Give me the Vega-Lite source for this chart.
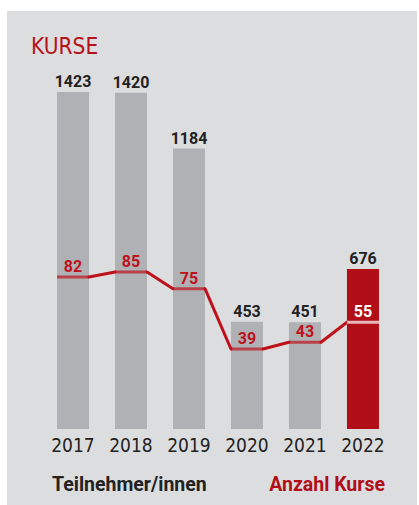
{
  "$schema": "https://vega.github.io/schema/vega-lite/v6.json",
  "width": 410,
  "height": 494,
  "autosize": "none",
  "padding": {"left": 7, "top": 11, "right": 2, "bottom": 0},
  "background": "#ffffff",
  "config": {"view": {"stroke": null, "fill": "#dcdddf"}},
  "title": {
    "text": "KURSE",
    "anchor": "start",
    "frame": "group",
    "orient": "top",
    "offset": 0,
    "dx": 24,
    "dy": 65,
    "baseline": "alphabetic",
    "font": "DejaVu Sans Condensed",
    "fontSize": 22.5,
    "fontWeight": "normal",
    "color": "#b5121b"
  },
  "data": {
    "values": [
      {"year": "2017", "participants": 1423, "courses": 82},
      {"year": "2018", "participants": 1420, "courses": 85},
      {"year": "2019", "participants": 1184, "courses": 75},
      {"year": "2020", "participants": 453, "courses": 39},
      {"year": "2021", "participants": 451, "courses": 43},
      {"year": "2022", "participants": 676, "courses": 55}
    ]
  },
  "encoding": {
    "x": {
      "field": "year",
      "type": "ordinal",
      "scale": {"paddingInner": 0.4483, "paddingOuter": 0.759, "align": 0.568},
      "axis": {
        "orient": "bottom",
        "offset": -76,
        "domain": false,
        "ticks": false,
        "grid": false,
        "title": null,
        "labelAngle": 0,
        "labelPadding": 7,
        "labelFont": "DejaVu Sans Condensed",
        "labelFontSize": 19,
        "labelColor": "#222222"
      }
    }
  },
  "layer": [
    {
      "encoding": {
        "y": {"type": "quantitative", "scale": {"domain": [-321, 1765], "nice": false, "zero": false}, "axis": null}
      },
      "layer": [
        {
          "mark": {"type": "bar"},
          "encoding": {
            "y": {"field": "participants", "type": "quantitative"},
            "y2": {"datum": 0},
            "color": {"condition": {"test": "datum.year === '2022'", "value": "#b20e17"}, "value": "#b0b1b4"}
          }
        },
        {
          "mark": {"type": "text", "dy": -5, "baseline": "alphabetic", "font": "Roboto", "fontWeight": "bold", "fontSize": 16, "color": "#222222"},
          "encoding": {
            "y": {"field": "participants", "type": "quantitative"},
            "text": {"field": "participants", "type": "quantitative"}
          }
        },
        {
          "data": {"values": [{"label": "Teilnehmer/innen"}]},
          "mark": {"type": "text", "align": "left", "baseline": "alphabetic", "dx": -5, "font": "Roboto", "fontWeight": "bold", "fontSize": 19.5, "color": "#222222"},
          "encoding": {
            "x": {"datum": "2017", "bandPosition": 0},
            "y": {"datum": -262},
            "text": {"field": "label"}
          }
        },
        {
          "data": {"values": [{"label": "Anzahl Kurse"}]},
          "mark": {"type": "text", "align": "right", "baseline": "alphabetic", "dx": 6, "font": "Roboto", "fontWeight": "bold", "fontSize": 19.5, "color": "#b20e17"},
          "encoding": {
            "x": {"datum": "2022", "bandPosition": 1},
            "y": {"datum": -262},
            "text": {"field": "label"}
          }
        }
      ]
    },
    {
      "encoding": {
        "y": {"type": "quantitative", "scale": {"domain": [-54.2, 240.9], "nice": false, "zero": false}, "axis": null}
      },
      "layer": [
        {
          "transform": [
            {"window": [{"op": "lead", "field": "year", "as": "nextYear"}, {"op": "lead", "field": "courses", "as": "nextCourses"}], "sort": [{"field": "year"}]},
            {"filter": "datum.nextYear != null"}
          ],
          "mark": {"type": "rule", "strokeWidth": 3, "strokeCap": "round", "color": "#be111c"},
          "encoding": {
            "x": {"field": "year", "type": "ordinal", "bandPosition": 1},
            "x2": {"field": "nextYear", "bandPosition": 0},
            "y": {"field": "courses", "type": "quantitative"},
            "y2": {"field": "nextCourses"}
          }
        },
        {
          "mark": {"type": "tick", "orient": "horizontal", "thickness": 3, "size": 32},
          "encoding": {
            "y": {"field": "courses", "type": "quantitative"},
            "color": {"condition": {"test": "datum.year === '2022'", "value": "#ffffff"}, "value": "#be111c"}
          }
        },
        {
          "mark": {"type": "text", "dy": -5, "baseline": "alphabetic", "font": "Roboto", "fontWeight": "bold", "fontSize": 16},
          "encoding": {
            "y": {"field": "courses", "type": "quantitative"},
            "text": {"field": "courses", "type": "quantitative"},
            "color": {"condition": {"test": "datum.year === '2022'", "value": "#ffffff"}, "value": "#be111c"}
          }
        }
      ]
    }
  ],
  "resolve": {"scale": {"y": "independent"}}
}
